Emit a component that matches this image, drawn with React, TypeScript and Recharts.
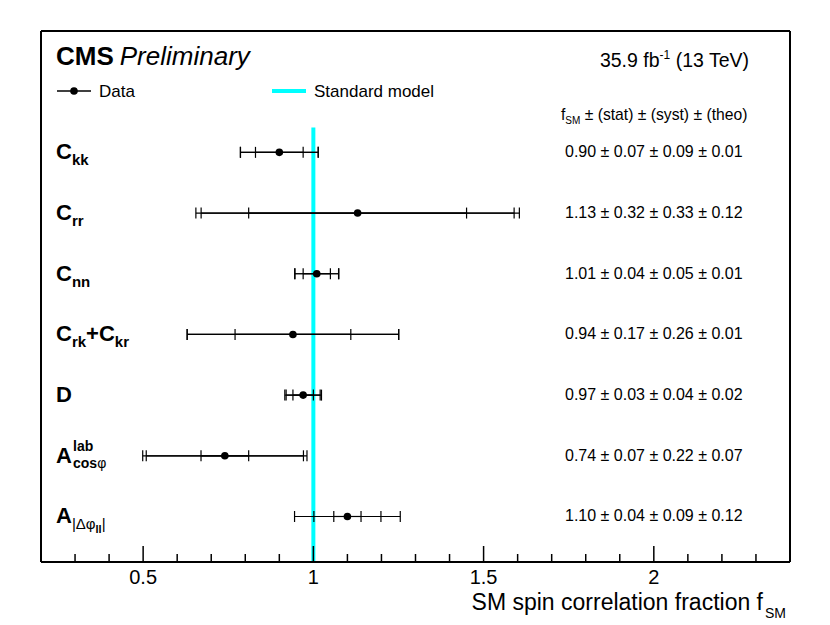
import React from 'react';
import { ScatterChart, Scatter, XAxis, YAxis, ErrorBar, ReferenceLine, Legend } from 'recharts';

// ---------- data ----------
const observables = ['Ckk', 'Crr', 'Cnn', 'Crk+Ckr', 'D', 'Acos', 'Adphi'];
const fSM = [0.90, 1.13, 1.01, 0.94, 0.97, 0.74, 1.10];
const statErr = [0.07, 0.32, 0.04, 0.17, 0.03, 0.07, 0.04];
const systErr = [0.09, 0.33, 0.05, 0.26, 0.04, 0.22, 0.09];
const theoErr = [0.01, 0.12, 0.01, 0.01, 0.02, 0.07, 0.12];
const rowPos = [0, 1, 2, 3, 4, 5, 6];
const xTicks = [0.3, 0.4, 0.5, 0.6, 0.7, 0.8, 0.9, 1.0, 1.1, 1.2, 1.3, 1.4, 1.5, 1.6, 1.7, 1.8, 1.9, 2.0, 2.1, 2.2, 2.3];
const xMajorTicks = [0.5, 1, 1.5, 2];
const xMajorLabels = ['0.5', '1', '1.5', '2'];
const smValue = 1;

const FONT = '"Liberation Sans", Arial, Helvetica, sans-serif';
const X_DOMAIN: [number, number] = [0.2, 2.4];
const Y_DOMAIN: [number, number] = [-2, 6.75];

const tableData = fSM.map((v, i) => ({
  name: observables[i],
  x: v,
  y: rowPos[i],
  stat: statErr[i],
  statSyst: Math.sqrt(statErr[i] ** 2 + systErr[i] ** 2),
  total: Math.sqrt(statErr[i] ** 2 + systErr[i] ** 2 + theoErr[i] ** 2),
}));

// ---------- components ----------
const XTick = (props: any) => {
  const { x, y, payload } = props;
  const mi = xMajorTicks.findIndex((m) => Math.abs(m - payload.value) < 1e-6);
  const major = mi >= 0;
  return (
    <g>
      <line x1={x} x2={x} y1={y} y2={y - (major ? 16 : 8)} stroke="#000" strokeWidth={1.5} />
      {major && (
        <text x={x} y={y + 22} textAnchor="middle" fontFamily={FONT} fontSize={20} fill="#000">
          {xMajorLabels[mi]}
        </text>
      )}
    </g>
  );
};

const B = 22;
const S = 15;

const RowLabel = (props: any) => {
  const { x, y, payload } = props;
  const idx = rowPos.indexOf(payload.value);
  const name = observables[idx];
  const x0 = x + 15;
  const yb = y + 7;
  const common = { fontFamily: FONT, fill: '#000' };
  if (name === 'Acos') {
    return (
      <g>
        <text x={x0} y={yb} fontSize={B} fontWeight="bold" {...common}>A</text>
        <text x={x0 + 17} y={yb - 12} fontSize={14} fontWeight="bold" {...common}>lab</text>
        <text x={x0 + 17} y={yb + 5} fontSize={14} {...common}>
          <tspan fontWeight="bold">cos</tspan>
          <tspan>φ</tspan>
        </text>
      </g>
    );
  }
  if (name === 'Adphi') {
    return (
      <text x={x0} y={yb} {...common}>
        <tspan fontSize={B} fontWeight="bold">A</tspan>
        <tspan fontSize={S} dy={6}>|Δφ</tspan>
        <tspan fontSize={11} fontWeight="bold" dy={4}>ll</tspan>
        <tspan fontSize={S} dy={-4}>|</tspan>
      </text>
    );
  }
  if (name === 'D') {
    return (
      <text x={x0} y={yb} fontSize={B} fontWeight="bold" {...common}>D</text>
    );
  }
  if (name === 'Crk+Ckr') {
    return (
      <text x={x0} y={yb} fontWeight="bold" {...common}>
        <tspan fontSize={B}>C</tspan>
        <tspan fontSize={S} dy={6}>rk</tspan>
        <tspan fontSize={B} dy={-6}>+C</tspan>
        <tspan fontSize={S} dy={6}>kr</tspan>
      </text>
    );
  }
  return (
    <text x={x0} y={yb} fontWeight="bold" {...common}>
      <tspan fontSize={B}>C</tspan>
      <tspan fontSize={S} dy={6}>{name.slice(1)}</tspan>
    </text>
  );
};

const ValueLabel = (props: any) => {
  const { x, y, payload } = props;
  const i = rowPos.indexOf(payload.value);
  const txt = `${fSM[i].toFixed(2)} ± ${statErr[i].toFixed(2)} ± ${systErr[i].toFixed(2)} ± ${theoErr[i].toFixed(2)}`;
  return (
    <text x={x - 225} y={y + 5} fontFamily={FONT} fontSize={16} fill="#000">
      {txt}
    </text>
  );
};

const Dot = (props: any) => <circle cx={props.cx} cy={props.cy} r={3.8} fill="#000" />;

const LegendContent = () => (
  <div style={{ position: 'relative', width: 420, height: 24, fontFamily: FONT, fontSize: 17 }}>
    <svg width={420} height={24} style={{ position: 'absolute', left: 0, top: 0 }}>
      <line x1={1} x2={35} y1={12} y2={12} stroke="#000" strokeWidth={1.5} />
      <circle cx={18} cy={12} r={3.8} fill="#000" />
      <line x1={216} x2={250} y1={12} y2={12} stroke="#00FFFF" strokeWidth={4} />
      <text x={43} y={18} fontFamily={FONT} fontSize={17} fill="#000">Data</text>
      <text x={258} y={18} fontFamily={FONT} fontSize={17} fill="#000">Standard model</text>
    </svg>
  </div>
);

export default function App() {
  return (
    <div style={{ position: 'absolute', left: 0, top: 0, width: 830, height: 625, background: '#fff' }}>
      <ScatterChart
        width={830}
        height={625}
        margin={{ top: 30, right: 40, bottom: 33, left: 41 }}
      >
        <XAxis
          type="number"
          dataKey="x"
          domain={X_DOMAIN}
          allowDataOverflow
          ticks={xTicks}
          interval={0}
          height={30}
          tickSize={0}
          tickMargin={0}
          tickLine={false}
          tick={<XTick />}
          axisLine={{ stroke: '#000', strokeWidth: 2 }}
        />
        <XAxis
          xAxisId="top"
          orientation="top"
          type="number"
          domain={X_DOMAIN}
          allowDataOverflow
          height={1}
          tick={false}
          tickLine={false}
          axisLine={{ stroke: '#000', strokeWidth: 2 }}
        />
        <YAxis
          type="number"
          dataKey="y"
          domain={Y_DOMAIN}
          reversed
          allowDataOverflow
          ticks={rowPos}
          interval={0}
          width={1}
          mirror
          tickSize={0}
          tickMargin={0}
          tickLine={false}
          tick={<RowLabel />}
          axisLine={{ stroke: '#000', strokeWidth: 2 }}
        />
        <YAxis
          yAxisId="right"
          orientation="right"
          type="number"
          domain={Y_DOMAIN}
          reversed
          allowDataOverflow
          ticks={rowPos}
          interval={0}
          width={1}
          mirror
          tickSize={0}
          tickMargin={0}
          tickLine={false}
          tick={<ValueLabel />}
          axisLine={{ stroke: '#000', strokeWidth: 2 }}
        />
        <ReferenceLine
          segment={[{ x: smValue, y: -0.41 }, { x: smValue, y: Y_DOMAIN[1] }]}
          stroke="#00FFFF"
          strokeWidth={4}
          ifOverflow="visible"
        />
        <Legend
          layout="horizontal"
          verticalAlign="middle"
          align="center"
          content={<LegendContent />}
          wrapperStyle={{ position: 'absolute', left: 56, top: 79, width: 420, height: 24 }}
        />
        <Scatter name="Data" data={tableData} isAnimationActive={false} shape={<Dot />}>
          <ErrorBar dataKey="total" direction="x" width={5.5} stroke="#000" strokeWidth={1.2} isAnimationActive={false} />
          <ErrorBar dataKey="statSyst" direction="x" width={5.5} stroke="#000" strokeWidth={1.2} isAnimationActive={false} />
          <ErrorBar dataKey="stat" direction="x" width={5.5} stroke="#000" strokeWidth={1.2} isAnimationActive={false} />
        </Scatter>
      </ScatterChart>
      <svg
        width={830}
        height={625}
        style={{ position: 'absolute', left: 0, top: 0, pointerEvents: 'none' }}
      >
        <text x={56} y={65} fontFamily={FONT} fontSize={26} fill="#000">
          <tspan fontWeight="bold">CMS</tspan>
          <tspan fontStyle="italic" dx={6}>Preliminary</tspan>
        </text>
        <text x={749} y={67} textAnchor="end" fontFamily={FONT} fontSize={19.5} fill="#000">
          <tspan>35.9 fb</tspan>
          <tspan fontSize={12} dy={-8}>-1</tspan>
          <tspan dy={8}> (13 TeV)</tspan>
        </text>
        <text x={561} y={120} fontFamily={FONT} fontSize={15.7} fill="#000">
          <tspan>f</tspan>
          <tspan fontSize={10} dy={4}>SM</tspan>
          <tspan dy={-4}> ± (stat) ± (syst) ± (theo)</tspan>
        </text>
        <text x={763} y={610} textAnchor="end" fontFamily={FONT} fontSize={23} fill="#000">
          SM spin correlation fraction f
        </text>
        <text x={765} y={618} fontFamily={FONT} fontSize={14} fill="#000">SM</text>
      </svg>
    </div>
  );
}
